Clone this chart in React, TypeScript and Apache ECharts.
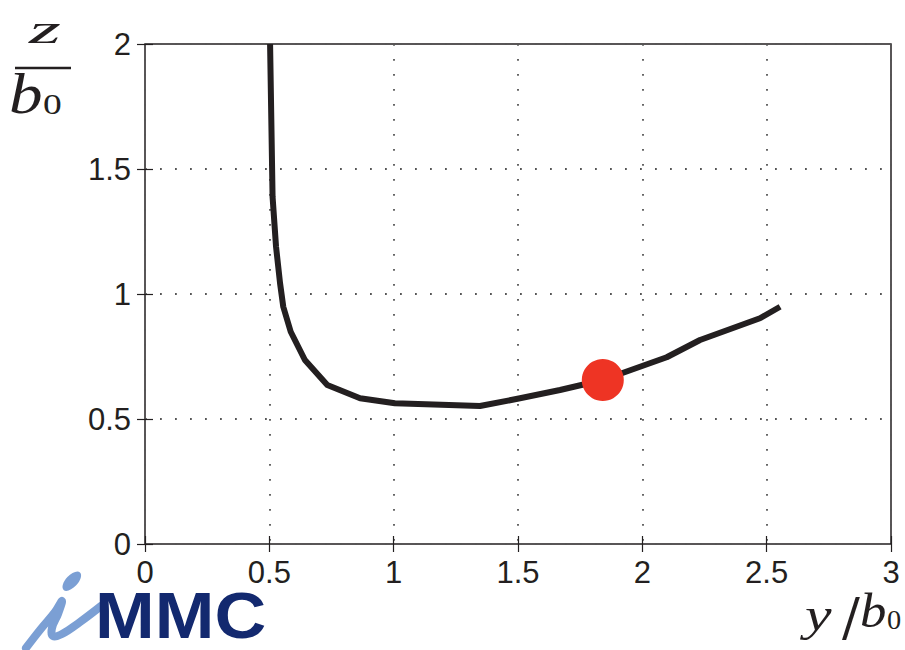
import React, { useEffect, useRef } from "react";
import * as echarts from "echarts";

const curveX = [0.503, 0.513, 0.527, 0.543, 0.556, 0.586, 0.643, 0.733, 0.865, 1.005, 1.347, 1.508, 1.669, 1.841, 2.098, 2.232, 2.473, 2.554];
const curveY = [2.0, 1.389, 1.189, 1.044, 0.949, 0.849, 0.736, 0.636, 0.583, 0.563, 0.552, 0.583, 0.616, 0.656, 0.747, 0.816, 0.903, 0.949];
const markerPoint = [1.841, 0.656];
const xTicks = [0, 0.5, 1, 1.5, 2, 2.5, 3];
const yTicks = [0, 0.5, 1, 1.5, 2];

export default function App() {
  const ref = useRef<HTMLDivElement>(null);
  useEffect(() => {
    const chart = echarts.init(ref.current!, null, { renderer: "svg" });
    const labelFont = { fontFamily: "Liberation Sans, Arial, sans-serif", fontSize: 31, color: "#231f20" };
    const grid = { show: true, left: 145, right: 14, top: 44, bottom: 106, borderColor: "#231f20", borderWidth: 1.5, backgroundColor: "transparent" };
    const splitLine = { show: true, lineStyle: { color: "#555", width: 1.8, type: [1.8, 13.2] } };
    const tick = { show: true, inside: true, length: 8, lineStyle: { color: "#231f20", width: 1.2 } };
    const serif = "Liberation Serif, DejaVu Serif, serif";
    const ink = "#231f20";
    chart.setOption({
      animation: false,
      grid,
      xAxis: [
        {
          type: "value", min: 0, max: 3, interval: 0.5,
          axisLine: { show: false },
          axisTick: tick,
          axisLabel: { ...labelFont, margin: 13, formatter: (v: number) => xTicks.includes(v) ? String(v) : "" },
          splitLine,
        },
        {
          type: "value", min: 0, max: 3, interval: 0.5, position: "top",
          axisLine: { show: false }, axisTick: tick,
          axisLabel: { show: false }, splitLine: { show: false },
        },
      ],
      yAxis: [
        {
          type: "value", min: 0, max: 2, interval: 0.5,
          axisLine: { show: false },
          axisTick: tick,
          axisLabel: { ...labelFont, margin: 14, formatter: (v: number) => yTicks.includes(v) ? String(v) : "" },
          splitLine,
        },
        {
          type: "value", min: 0, max: 2, interval: 0.5, position: "right",
          axisLine: { show: false }, axisTick: tick,
          axisLabel: { show: false }, splitLine: { show: false },
        },
      ],
      series: [
        {
          type: "line",
          data: curveX.map((x, i) => [x, curveY[i]]),
          showSymbol: false,
          lineStyle: { color: ink, width: 6, join: "round" },
          clip: true,
          z: 2,
        },
        {
          type: "scatter",
          data: [markerPoint],
          symbolSize: 42,
          itemStyle: { color: "#ee3424", opacity: 1 },
          z: 3,
        },
      ],
      graphic: [
        // y-axis label z / b0
        { type: "text", x: 29, y: 9, scaleX: 2.0, style: { text: "z", font: `italic 41px ${serif}`, fill: ink } },
        { type: "line", shape: { x1: 15, y1: 68, x2: 71, y2: 68 }, style: { stroke: ink, lineWidth: 2.7 } },
        { type: "text", x: 9, y: 66, scaleX: 1.2, style: { text: "b", font: `italic 56px ${serif}`, fill: ink } },
        { type: "text", x: 43, y: 89, scaleX: 1.25, style: { text: "0", font: `30px ${serif}`, fill: ink } },
        // x-axis label y / b0
        { type: "text", x: 805, y: 592, scaleX: 1.3, style: { text: "y", font: `italic 46px ${serif}`, lineHeight: 44, fill: ink } },
        { type: "text", x: 842, y: 593, style: { text: "/", font: `53px DejaVu Serif, serif`, lineHeight: 46, fill: ink } },
        { type: "text", x: 860, y: 588, scaleX: 1.1, style: { text: "b", font: `italic 48px ${serif}`, lineHeight: 46, fill: ink } },
        { type: "text", x: 887, y: 607, scaleX: 1.05, style: { text: "0", font: `27px ${serif}`, lineHeight: 26, fill: ink } },
        // iMMC logo
        {
          type: "polyline",
          shape: { points: [[26, 648], [40, 630], [55, 612], [62, 601], [58, 614], [52, 628], [53, 636], [62, 634], [80, 622], [101, 606]], smooth: 0.4 },
          style: { stroke: "#7b9fd4", lineWidth: 8, lineCap: "round", lineJoin: "round", fill: null },
        },
        { type: "ellipse", shape: { cx: 72, cy: 581, rx: 6, ry: 12 }, rotation: -0.75, originX: 72, originY: 581, style: { fill: "#7b9fd4" } },
        {
          type: "text", x: 95, y: 589, scaleX: 1.12,
          style: { text: "MMC", font: `bold 64px Liberation Sans, Arial, sans-serif`, lineHeight: 52, fill: "#13296f" },
        },
      ],
    });
    return () => chart.dispose();
  }, []);
  return <div ref={ref} style={{ width: 905, height: 650, position: "absolute", left: 0, top: 0, background: "#fff" }} />;
}
